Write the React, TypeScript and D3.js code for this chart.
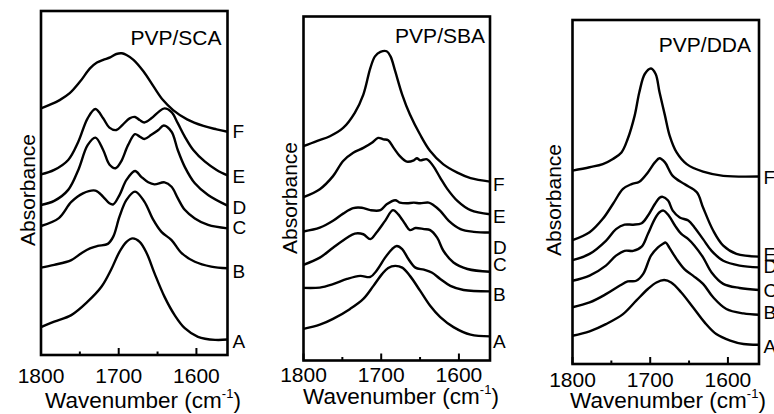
import React from 'react';
import * as d3 from 'd3';

type Pt = [number, number];

// wavenumber (cm-1), absorbance (arbitrary, 0-100 of panel height)
const curveNames = ['A', 'B', 'C', 'D', 'E', 'F'];
const panelTitles = ['PVP/SCA', 'PVP/SBA', 'PVP/DDA'];
const majorTicks = [1800, 1700, 1600];
const minorTicks = [1750, 1650];

const scaA: Pt[] = [[1800, 8.1], [1783, 9.7], [1761, 11.6], [1740, 15.5], [1722, 19.9], [1710, 24.7], [1699, 30.0], [1690, 32.9], [1682, 33.9], [1673, 32.9], [1664, 29.6], [1654, 23.8], [1641, 16.9], [1628, 11.6], [1615, 7.8], [1598, 5.3], [1576, 4.4], [1560, 4.5]];
const scaB: Pt[] = [[1800, 25.4], [1783, 26.2], [1761, 27.6], [1748, 29.6], [1737, 31.0], [1727, 31.7], [1714, 32.3], [1707, 34.4], [1699, 40.2], [1690, 45.1], [1679, 47.5], [1667, 44.6], [1656, 39.5], [1645, 35.8], [1632, 33.4], [1619, 29.6], [1602, 27.1], [1581, 25.7], [1560, 25.2]];
const scaC: Pt[] = [[1800, 37.5], [1777, 39.8], [1761, 44.5], [1746, 47.0], [1730, 47.8], [1720, 46.0], [1712, 44.1], [1707, 43.8], [1699, 46.5], [1690, 50.9], [1679, 53.5], [1671, 51.8], [1662, 50.2], [1654, 49.6], [1641, 50.2], [1632, 48.9], [1624, 45.6], [1615, 42.2], [1602, 39.7], [1585, 37.8], [1560, 36.8]];
const scaD: Pt[] = [[1800, 43.6], [1783, 44.8], [1765, 48.0], [1752, 53.8], [1740, 61.0], [1730, 63.2], [1720, 59.6], [1712, 55.4], [1704, 54.3], [1697, 56.2], [1688, 61.0], [1679, 64.2], [1673, 63.5], [1667, 62.8], [1658, 64.0], [1649, 65.4], [1642, 66.7], [1632, 64.9], [1624, 59.6], [1615, 54.7], [1602, 49.9], [1585, 46.5], [1560, 43.4]];
const scaE: Pt[] = [[1800, 52.5], [1783, 53.8], [1765, 56.7], [1752, 62.0], [1740, 68.8], [1730, 71.5], [1720, 68.8], [1712, 66.1], [1703, 65.4], [1695, 66.9], [1686, 68.8], [1679, 69.2], [1673, 68.3], [1667, 67.6], [1658, 68.8], [1649, 70.6], [1641, 71.7], [1632, 70.6], [1624, 67.4], [1615, 63.5], [1604, 59.6], [1589, 56.2], [1574, 53.8], [1560, 52.2]];
const scaF: Pt[] = [[1800, 71.7], [1789, 72.7], [1776, 74.1], [1763, 76.1], [1750, 79.4], [1737, 83.3], [1728, 85.0], [1720, 85.8], [1711, 86.5], [1703, 87.5], [1696, 87.7], [1690, 87.2], [1681, 85.8], [1668, 82.4], [1655, 78.0], [1643, 74.1], [1630, 71.2], [1612, 68.5], [1591, 66.6], [1574, 65.6], [1560, 64.9]];

const sbaA: Pt[] = [[1800, 9.2], [1779, 10.4], [1762, 12.1], [1740, 15.0], [1723, 17.9], [1710, 21.7], [1699, 25.1], [1691, 26.9], [1682, 27.5], [1673, 27.0], [1663, 24.6], [1650, 20.3], [1637, 15.9], [1624, 12.6], [1607, 9.7], [1585, 7.5], [1560, 7.0]];
const sbaB: Pt[] = [[1800, 21.1], [1779, 21.2], [1762, 22.2], [1744, 23.7], [1727, 24.6], [1714, 24.3], [1706, 26.1], [1695, 29.9], [1686, 32.4], [1680, 33.3], [1673, 32.4], [1665, 29.5], [1656, 27.0], [1645, 26.4], [1635, 25.6], [1624, 23.7], [1611, 21.7], [1594, 20.5], [1560, 20.1]];
const sbaC: Pt[] = [[1800, 27.8], [1779, 29.9], [1762, 32.8], [1744, 35.7], [1734, 36.9], [1723, 36.7], [1714, 35.3], [1706, 37.2], [1695, 40.6], [1685, 43.7], [1678, 42.5], [1669, 39.6], [1663, 37.9], [1656, 38.5], [1645, 38.2], [1637, 37.9], [1628, 35.7], [1620, 31.9], [1607, 28.5], [1589, 26.6], [1560, 25.8]];
const sbaD: Pt[] = [[1800, 37.5], [1779, 38.6], [1762, 40.6], [1749, 42.7], [1736, 44.3], [1725, 44.4], [1714, 43.7], [1701, 43.7], [1693, 45.4], [1682, 46.6], [1676, 45.9], [1667, 45.7], [1658, 45.9], [1650, 45.7], [1639, 45.9], [1633, 45.2], [1624, 43.5], [1613, 40.6], [1598, 38.2], [1581, 37.4], [1560, 37.2]];
const sbaE: Pt[] = [[1800, 47.5], [1779, 49.8], [1762, 53.6], [1749, 58.0], [1736, 60.4], [1723, 61.8], [1712, 63.3], [1704, 64.7], [1697, 64.3], [1691, 64.0], [1684, 61.8], [1676, 59.4], [1667, 57.8], [1658, 58.2], [1654, 58.8], [1650, 58.2], [1641, 58.5], [1633, 56.5], [1624, 53.1], [1615, 49.9], [1602, 46.4], [1585, 43.7], [1560, 42.5]];
const sbaF: Pt[] = [[1800, 62.3], [1783, 63.8], [1766, 65.2], [1749, 67.6], [1734, 72.0], [1723, 77.3], [1714, 85.0], [1708, 88.4], [1701, 89.7], [1693, 89.9], [1688, 88.4], [1682, 84.1], [1673, 77.3], [1663, 71.5], [1650, 65.7], [1637, 60.9], [1620, 57.0], [1602, 54.6], [1585, 53.0], [1560, 52.0]];

const ddaA: Pt[] = [[1800, 8.2], [1778, 9.5], [1757, 11.6], [1735, 14.5], [1718, 18.4], [1703, 21.8], [1692, 23.7], [1682, 24.4], [1673, 23.7], [1660, 20.8], [1645, 16.5], [1630, 12.1], [1615, 8.7], [1597, 6.8], [1580, 5.8], [1560, 5.6]];
const ddaB: Pt[] = [[1800, 16.5], [1778, 17.9], [1757, 20.3], [1739, 22.8], [1729, 24.0], [1718, 24.2], [1709, 26.2], [1699, 31.5], [1690, 33.9], [1684, 34.9], [1680, 35.3], [1675, 33.7], [1666, 30.5], [1656, 27.6], [1645, 25.7], [1632, 23.3], [1619, 19.4], [1602, 16.0], [1580, 14.7], [1560, 14.3]];
const ddaC: Pt[] = [[1800, 24.2], [1778, 25.7], [1757, 28.6], [1744, 31.5], [1733, 32.9], [1722, 32.9], [1711, 34.1], [1703, 37.8], [1694, 42.2], [1688, 44.1], [1683, 44.6], [1676, 43.1], [1668, 40.2], [1660, 37.8], [1651, 36.3], [1643, 34.4], [1632, 31.0], [1621, 26.6], [1606, 23.3], [1585, 22.1], [1560, 21.5]];
const ddaD: Pt[] = [[1800, 30.2], [1778, 32.0], [1757, 35.8], [1744, 39.2], [1733, 40.5], [1722, 40.5], [1711, 40.9], [1703, 43.1], [1694, 46.5], [1688, 48.3], [1684, 48.6], [1677, 47.5], [1671, 44.6], [1662, 42.6], [1651, 41.7], [1643, 39.7], [1632, 36.3], [1621, 32.9], [1606, 30.0], [1585, 28.6], [1560, 28.1]];
const ddaE: Pt[] = [[1800, 36.0], [1778, 38.3], [1761, 42.2], [1748, 46.5], [1735, 50.9], [1724, 52.3], [1714, 53.0], [1703, 55.7], [1694, 58.6], [1688, 59.8], [1681, 58.6], [1671, 54.7], [1656, 52.3], [1640, 49.9], [1632, 45.5], [1619, 38.8], [1606, 34.4], [1589, 32.0], [1560, 31.2]];
const ddaF: Pt[] = [[1800, 56.2], [1778, 57.2], [1761, 58.1], [1748, 59.6], [1737, 61.5], [1729, 65.4], [1720, 72.2], [1714, 79.0], [1707, 84.3], [1699, 85.9], [1693, 84.3], [1688, 79.0], [1681, 72.2], [1675, 66.4], [1666, 61.5], [1653, 58.1], [1632, 55.9], [1606, 54.7], [1560, 54.5]];

// level (same units) where each letter A..F sits on the right
const scaLabelLevels = [4.1, 24.4, 37.2, 43.0, 52.0, 65.1];
const sbaLabelLevels = [5.5, 19.4, 28.1, 33.0, 42.0, 51.3];
const ddaLabelLevels = [5.3, 15.2, 21.6, 28.3, 31.8, 54.2];

const font = '"Liberation Sans", Arial, Helvetica, sans-serif';
const W = 186.5;
const H = 344;

const layout = [
  { left: 41, bottom: 355, tickBase: 383, titleBase: 408, titleX: 143, absX: 35, absY: 190, nameDx: 5, headBase: 45, headDx: 6 },
  { left: 303.5, bottom: 360.5, tickBase: 382, titleBase: 404, titleX: 401, absX: 297, absY: 198, nameDx: 3, headBase: 42.5, headDx: 5 },
  { left: 572.5, bottom: 364, tickBase: 387, titleBase: 408, titleX: 668, absX: 561, absY: 200, nameDx: 4.5, headBase: 51.5, headDx: 8 },
];

const panelCurves = [
  [scaA, scaB, scaC, scaD, scaE, scaF],
  [sbaA, sbaB, sbaC, sbaD, sbaE, sbaF],
  [ddaA, ddaB, ddaC, ddaD, ddaE, ddaF],
];
const panelLabels = [scaLabelLevels, sbaLabelLevels, ddaLabelLevels];

function Panel({ idx }: { idx: number }) {
  const L = layout[idx];
  const top = L.bottom - H;
  const x = d3.scaleLinear().domain([1800, 1560]).range([L.left, L.left + W]);
  const y = d3.scaleLinear().domain([0, 100]).range([L.bottom, top]);
  const line = d3
    .line<Pt>()
    .x((d) => x(d[0]))
    .y((d) => y(d[1]))
    .curve(d3.curveCatmullRom.alpha(0.5));

  return (
    <g>
      {panelCurves[idx].map((c, i) => (
        <path key={i} d={line(c) || ''} fill="none" stroke="#000" strokeWidth={2.4} strokeLinejoin="round" />
      ))}
      <rect x={L.left} y={top} width={W} height={H} fill="none" stroke="#000" strokeWidth={2.6} />
      {majorTicks.map((t) => (
        <line key={'M' + t} x1={x(t)} x2={x(t)} y1={L.bottom} y2={L.bottom - 7} stroke="#000" strokeWidth={2} />
      ))}
      {minorTicks.map((t) => (
        <line key={'m' + t} x1={x(t)} x2={x(t)} y1={L.bottom} y2={L.bottom - 3.5} stroke="#000" strokeWidth={2} />
      ))}
      {majorTicks.map((t) => (
        <text key={'t' + t} x={x(t)} y={L.tickBase} textAnchor="middle" fontSize={21}>
          {t}
        </text>
      ))}
      <text x={L.titleX} y={L.titleBase} textAnchor="middle" fontSize={22.5}>
        <tspan>Wavenumber (cm</tspan>
        <tspan fontSize={13} dy={-10}>-1</tspan>
        <tspan dy={10}>)</tspan>
      </text>
      <text transform={`translate(${L.absX},${L.absY}) rotate(-90)`} textAnchor="middle" fontSize={21}>
        Absorbance
      </text>
      <text x={L.left + W - L.headDx} y={L.headBase} textAnchor="end" fontSize={21}>
        {panelTitles[idx]}
      </text>
      {curveNames.map((n, i) => (
        <text key={n} x={L.left + W + L.nameDx} y={y(panelLabels[idx][i])} dy="0.36em" fontSize={19}>
          {n}
        </text>
      ))}
    </g>
  );
}

export default function App() {
  return (
    <svg
      width={774}
      height={414}
      style={{ position: 'absolute', left: 0, top: 0, background: '#fff' }}
      fontFamily={font}
      fill="#000"
    >
      <rect width={774} height={414} fill="#fff" />
      {[0, 1, 2].map((i) => (
        <Panel key={i} idx={i} />
      ))}
    </svg>
  );
}
